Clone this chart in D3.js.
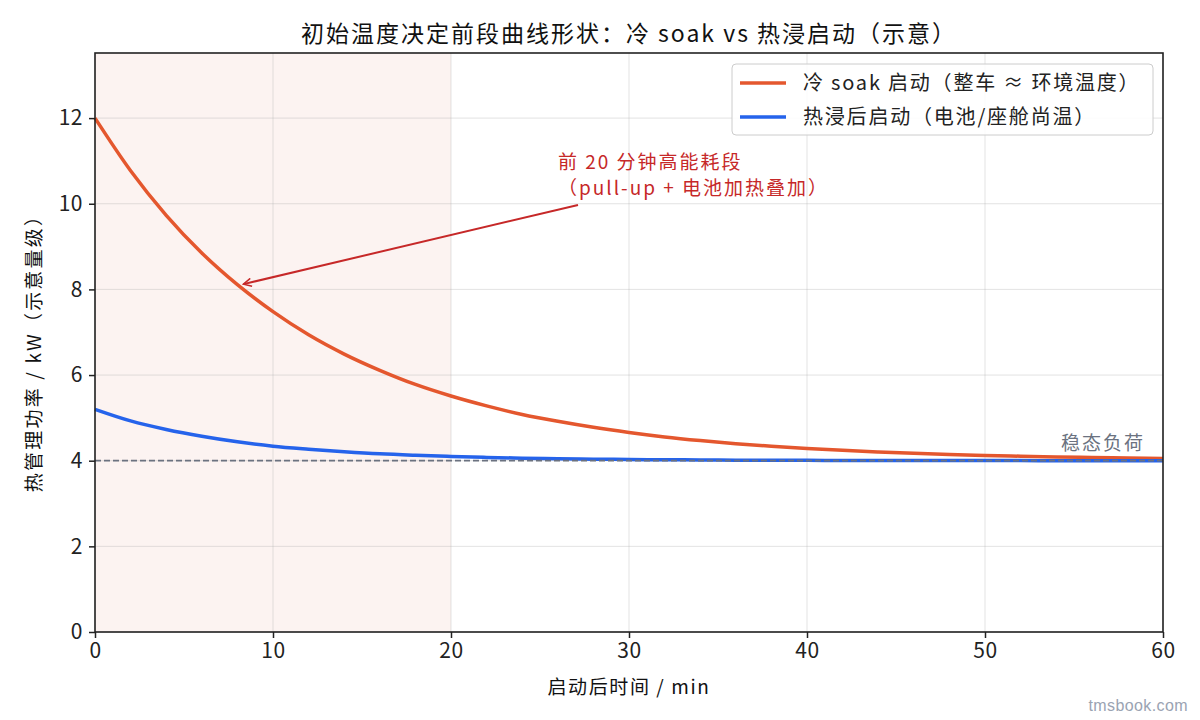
<!DOCTYPE html>
<html lang="zh">
<head>
<meta charset="UTF-8">
<title>冷 soak vs 热浸启动</title>
<script src="https://cdn.jsdelivr.net/npm/d3@7"></script>
<style>
    body { margin: 0; background: #fff; }
    text { font-family: "Noto Sans CJK SC", "Noto Sans", sans-serif; }
</style>
</head>
<body>
<div id="main"></div>
<script>
    // 数据（从图上读取的示意值）
    const minutes = [0, 2, 4, 6, 8, 10, 12, 14, 16, 18, 20, 22, 24, 26, 28, 30,
        32, 34, 36, 38, 40, 42, 44, 46, 48, 50, 52, 54, 56, 58, 60]
    const coldSoak = [12.00, 10.77, 9.73, 8.85, 8.11, 7.48, 6.94, 6.49, 6.11, 5.78, 5.51,
        5.28, 5.08, 4.92, 4.78, 4.66, 4.556, 4.471, 4.398, 4.337, 4.286,
        4.242, 4.205, 4.173, 4.146, 4.124, 4.105, 4.089, 4.075, 4.064, 4.054]
    const hotSoak = [5.20, 4.93, 4.73, 4.57, 4.44, 4.34, 4.27, 4.21, 4.16, 4.126, 4.099,
        4.077, 4.060, 4.047, 4.036, 4.028, 4.022, 4.017, 4.013, 4.010, 4.008,
        4.006, 4.005, 4.004, 4.003, 4.003, 4.002, 4.001, 4.001, 4.001, 4.001]
    const steadyLoad = 4
    const highPhase = [0, 20]
    const xTicks = [0, 10, 20, 30, 40, 50, 60]
    const yTicks = [0, 2, 4, 6, 8, 10, 12]
    const seriesNames = ["冷 soak 启动（整车 ≈ 环境温度）", "热浸后启动（电池/座舱尚温）"]
    const arrowAt = [8, 8.1]

    const W = 1200, H = 720
    let margin = {top: 53, right: 37, bottom: 88, left: 95},
        width = W - margin.left - margin.right,
        height = H - margin.top - margin.bottom

    let svg = d3.select("#main").append("svg")
        .attr("width", W)
        .attr("height", H)

    let chart = svg.append("g")
        .attr("transform", `translate(${margin.left},${margin.top})`)

    let XScale = d3.scaleLinear().domain([0, 60]).range([0, width])
    let YScale = d3.scaleLinear().domain([0, 13.52]).range([height, 0])

    // 高能耗阶段底色
    chart.append("rect")
        .attr("x", XScale(highPhase[0]))
        .attr("y", 0)
        .attr("width", XScale(highPhase[1]) - XScale(highPhase[0]))
        .attr("height", height)
        .attr("fill", "#d9553a")
        .attr("fill-opacity", 0.07)

    // 网格
    chart.append("g").selectAll("line")
        .data(xTicks)
        .enter().append("line")
        .attr("x1", d => XScale(d)).attr("x2", d => XScale(d))
        .attr("y1", 0).attr("y2", height)
        .attr("stroke", "#b0b0b0").attr("stroke-opacity", 0.35)
    chart.append("g").selectAll("line")
        .data(yTicks)
        .enter().append("line")
        .attr("x1", 0).attr("x2", width)
        .attr("y1", d => YScale(d)).attr("y2", d => YScale(d))
        .attr("stroke", "#b0b0b0").attr("stroke-opacity", 0.35)

    let line = d3.line().curve(d3.curveMonotoneX)

    chart.append("path")
        .attr("d", line(minutes.map((m, i) => [XScale(m), YScale(coldSoak[i])])))
        .attr("fill", "none")
        .attr("stroke", "#e4572e")
        .attr("stroke-width", 3.5)

    chart.append("path")
        .attr("d", line(minutes.map((m, i) => [XScale(m), YScale(hotSoak[i])])))
        .attr("fill", "none")
        .attr("stroke", "#2563eb")
        .attr("stroke-width", 3.5)

    // 稳态负荷
    chart.append("line")
        .attr("x1", 0).attr("x2", width)
        .attr("y1", YScale(steadyLoad)).attr("y2", YScale(steadyLoad))
        .attr("stroke", "#6b7280")
        .attr("stroke-width", 1.8)
        .attr("stroke-dasharray", "6,3")

    chart.append("text")
        .attr("x", width - 18)
        .attr("y", YScale(steadyLoad) - 11)
        .attr("text-anchor", "end")
        .attr("font-size", 19)
        .attr("letter-spacing", 2)
        .attr("fill", "#6b7280")
        .text("稳态负荷")

    // 标注
    svg.append("defs").append("marker")
        .attr("id", "arrow")
        .attr("viewBox", "0 0 10 10")
        .attr("refX", 9).attr("refY", 5)
        .attr("markerWidth", 10).attr("markerHeight", 10)
        .attr("markerUnits", "userSpaceOnUse")
        .attr("orient", "auto")
        .append("path")
        .attr("d", "M 1,1 L 9,5 L 1,9")
        .attr("fill", "none")
        .attr("stroke", "#c62828")
        .attr("stroke-width", 1.5)

    let ax = XScale(arrowAt[0]), ay = YScale(arrowAt[1])
    chart.append("line")
        .attr("x1", 578 - margin.left).attr("y1", 205 - margin.top)
        .attr("x2", ax + 6).attr("y2", ay - 1)
        .attr("stroke", "#c62828")
        .attr("stroke-width", 2)
        .attr("marker-end", "url(#arrow)")

    let note = chart.append("text")
        .attr("font-size", 19)
        .attr("letter-spacing", 2)
        .attr("fill", "#c62828")
    note.append("tspan").attr("x", 558 - margin.left).attr("y", 169 - margin.top).text("前 20 分钟高能耗段")
    note.append("tspan").attr("x", 558 - margin.left).attr("y", 195 - margin.top).text("（pull-up + 电池加热叠加）")

    // 坐标轴
    let x_axis = d3.axisBottom(XScale).tickValues(xTicks).tickSize(6).tickPadding(5)
    let y_axis = d3.axisLeft(YScale).tickValues(yTicks).tickSize(6).tickPadding(6)

    let gx = chart.append("g").attr("transform", `translate(0,${height})`).call(x_axis)
    let gy = chart.append("g").call(y_axis)
    ;[gx, gy].forEach(g => {
        g.select(".domain").remove()
        g.selectAll("line").attr("stroke", "#222").attr("stroke-width", 1.5)
        g.selectAll("text").attr("font-size", 21).attr("fill", "#222")
            .attr("letter-spacing", 0.5)
            .style("font-family", "'Noto Sans CJK SC', sans-serif")
    })

    chart.append("rect")
        .attr("width", width).attr("height", height)
        .attr("fill", "none")
        .attr("stroke", "#222")
        .attr("stroke-width", 1.6)

    // 标题与轴标题
    svg.append("text")
        .attr("x", margin.left + width / 2)
        .attr("y", 42)
        .attr("text-anchor", "middle")
        .attr("font-size", 23)
        .attr("letter-spacing", 2)
        .attr("fill", "#111")
        .text("初始温度决定前段曲线形状：冷 soak vs 热浸启动（示意）")

    svg.append("text")
        .attr("x", margin.left + width / 2)
        .attr("y", 694)
        .attr("text-anchor", "middle")
        .attr("font-size", 19)
        .attr("letter-spacing", 1.6)
        .attr("fill", "#111")
        .text("启动后时间 / min")

    svg.append("text")
        .attr("transform", `translate(41,${margin.top + height / 2 + 6}) rotate(-90)`)
        .attr("text-anchor", "middle")
        .attr("font-size", 19)
        .attr("letter-spacing", 2.2)
        .attr("fill", "#111")
        .text("热管理功率 / kW（示意量级）")

    // 图例
    let legend = svg.append("g").attr("transform", "translate(732,64)")
    legend.append("rect")
        .attr("width", 421).attr("height", 71)
        .attr("rx", 4)
        .attr("fill", "#fff").attr("fill-opacity", 0.85)
        .attr("stroke", "#cccccc")
    const legendColors = ["#e4572e", "#2563eb"]
    seriesNames.forEach((name, i) => {
        legend.append("line")
            .attr("x1", 8).attr("x2", 54)
            .attr("y1", 19 + i * 34).attr("y2", 19 + i * 34)
            .attr("stroke", legendColors[i])
            .attr("stroke-width", 3.5)
        legend.append("text")
            .attr("x", 71).attr("y", 26 + i * 34)
            .attr("font-size", 20)
            .attr("letter-spacing", 1.8)
            .attr("fill", "#222")
            .text(name)
    })

    svg.append("text")
        .attr("x", 1188).attr("y", 711)
        .attr("text-anchor", "end")
        .attr("font-size", 16)
        .attr("letter-spacing", 0.4)
        .attr("fill", "#9aa3b2")
        .style("font-family", "'Liberation Sans', Arial, sans-serif")
        .text("tmsbook.com")
</script>
</body>
</html>
